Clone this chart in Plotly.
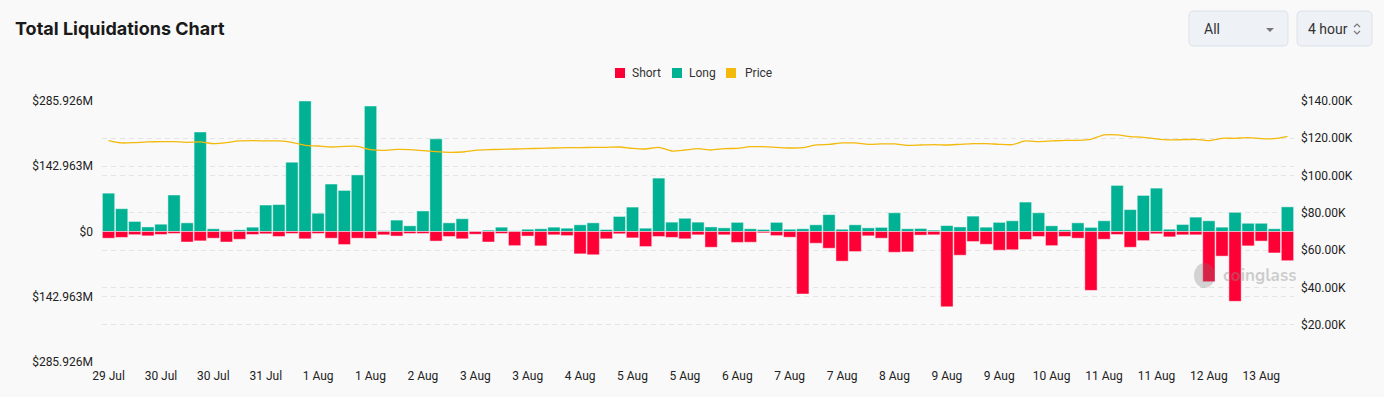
import pandas as pd
import plotly.graph_objects as go

# ---------------- data ----------------
times = pd.date_range("2025-07-29 08:00", periods=91, freq="4h").strftime("%Y-%m-%d %H:%M").tolist()

long_vals = [84, 50, 22, 10, 16, 80, 19, 218, 6, 2.2, 3.7, 9.5, 58, 59, 152, 285.926, 40, 104, 90, 124, 275, 2.2, 25,
             12.5, 45, 203, 19, 28, 1, 3, 9.5, 1.5, 5, 6, 9.5, 7.3, 14.7, 19, 4.4, 33, 53.5, 7.3, 117, 20.5, 29, 20.5,
             10, 8, 20, 6, 4.4, 20, 5, 6, 14.7, 37, 5, 14.7, 8, 9, 41, 6, 6.6, 3, 13, 10, 33.7, 9.5, 20,
             23.5, 64.5, 41, 12.5, 3.7, 19, 9, 23.5, 101, 48, 79, 95, 5, 15.4, 31.5, 23.5, 9.5, 42, 18, 18, 6, 54]

short_vals = [14.7, 13, 7, 9.5, 6.6, 4.4, 23, 20.5, 14.7, 23, 17, 6.6, 5, 11, 4.4, 16, 4.4, 14.7, 28.6, 14.7, 15.4, 7.3, 10,
              4.4, 4.4, 21, 11, 16, 6, 23, 4.4, 31, 10, 31.5, 7.3, 9, 49, 51, 16, 5, 14, 33, 11, 13, 16, 7.3,
              34.5, 7.3, 24, 23.5, 3, 9, 12.5, 137, 25.7, 36.7, 65, 44, 9.5, 14.7, 45.5, 44.7, 8, 7.3, 165, 52, 22, 28, 41,
              40, 17.6, 11, 31, 11, 14.7, 129, 17, 6.6, 34.5, 20, 5, 11.7, 7.3, 7.3, 110, 54, 153, 31.5, 21, 47, 64]

price_k = [118.74, 117.49, 117.67, 118.03, 118.2, 118.2, 117.85, 118.03, 117.13, 117.67, 118.56, 118.74, 118.56, 118.56,
           117.85, 116.23, 115.87, 115.33, 115.69, 115.69, 113.9, 113.54, 114.08,
           113.9, 113.36, 112.82, 112.46, 112.64, 113.54, 113.9, 114.08, 114.26, 114.43, 114.61, 114.79, 114.97, 114.97,
           115.15, 115.15, 115.33, 114.61, 114.26, 115.15, 113.18, 113.72, 114.43,
           113.72, 114.43, 114.61, 115.51, 115.51, 115.15, 114.79, 114.97, 116.41, 116.77, 117.49, 117.49, 116.77, 116.95,
           116.95, 116.23, 116.41, 116.59, 116.41, 116.77, 117.13, 117.13, 116.77,
           116.59, 118.56, 118.2, 118.56, 118.92, 118.92, 119.46, 121.8, 121.8, 120.9, 120.54, 119.64, 119.1, 119.28,
           119.46, 118.74, 120.0, 120.0, 120.36, 119.82, 119.82, 121.08]

x_tick_labels = ["29 Jul", "30 Jul", "30 Jul", "31 Jul", "1 Aug", "1 Aug", "2 Aug", "3 Aug", "3 Aug", "4 Aug",
                 "5 Aug", "5 Aug", "6 Aug", "7 Aug", "7 Aug", "8 Aug", "9 Aug", "9 Aug", "10 Aug", "11 Aug",
                 "11 Aug", "12 Aug", "13 Aug"]
left_tick_vals = [-285.926, -142.963, 0, 142.963, 285.926]
left_tick_text = ["$285.926M", "$142.963M", "$0", "$142.963M", "$285.926M"]
right_tick_vals = [20000, 40000, 60000, 80000, 100000, 120000, 140000]
right_tick_text = ["$20.00K", "$40.00K", "$60.00K", "$80.00K", "$100.00K", "$120.00K", "$140.00K"]

# ---------------- style ----------------
W, H = 1384, 397
L, R, T, B = 102, 90, 101, 35
PW, PH = W - L - R, H - T - B
BG = "#f9f9f9"
RED = "#ff0036"
GREEN = "#00b293"
GOLD = "#f3b90b"
GRID = "#e4e4e4"
TXT = "#222222"
FONT = "Roboto"


def px(x):
    return (x - L) / PW


def py(y):
    return (H - B - y) / PH


fig = go.Figure()
fig.add_trace(go.Bar(x=times, y=long_vals, name="Long", marker=dict(color=GREEN, line=dict(color="rgba(255,255,255,0.45)", width=1))))
fig.add_trace(go.Bar(x=times, y=[-v for v in short_vals], name="Short", marker=dict(color=RED, line=dict(color="rgba(255,255,255,0.45)", width=1))))
fig.add_trace(go.Scatter(x=times, y=[p * 1000 for p in price_k], name="Price", yaxis="y2", mode="lines",
                         line=dict(color=GOLD, width=1.3, shape="spline", smoothing=0.6)))

shapes = []
annotations = []

# title
annotations.append(dict(text="<b>Total Liquidations Chart</b>", x=px(13), y=py(29), xref="paper", yref="paper",
                        xanchor="left", yanchor="middle", showarrow=False,
                        font=dict(family="Inter", size=18, color="#1a1a1a")))

# legend (manual)
for x0, col, label, tx in [(615, RED, "Short", 630), (672, GREEN, "Long", 687), (726, GOLD, "Price", 743)]:
    shapes.append(dict(type="rect", xref="paper", yref="paper", x0=px(x0), x1=px(x0 + 10), y0=py(68), y1=py(78),
                       fillcolor=col, line=dict(width=0)))
    annotations.append(dict(text=label, x=px(tx), y=py(73), xref="paper", yref="paper", xanchor="left",
                            yanchor="middle", showarrow=False, font=dict(family=FONT, size=12, color="#333333")))


def rounded_box(x0, y0, x1, y1, r=5):
    X0, X1 = px(x0), px(x1)
    Y0, Y1 = py(y0), py(y1)
    rx, ry = r / PW, r / PH
    return (f"M{X0 + rx},{Y0} L{X1 - rx},{Y0} Q{X1},{Y0} {X1},{Y0 - ry} L{X1},{Y1 + ry} Q{X1},{Y1} {X1 - rx},{Y1} "
            f"L{X0 + rx},{Y1} Q{X0},{Y1} {X0},{Y1 + ry} L{X0},{Y0 - ry} Q{X0},{Y0} {X0 + rx},{Y0} Z")


# controls
for (x0, x1) in [(1189, 1288), (1297, 1372)]:
    shapes.append(dict(type="path", xref="paper", yref="paper", path=rounded_box(x0, 11, x1, 46),
                       fillcolor="#eef1f6", line=dict(color="#dbe1ea", width=1)))
annotations.append(dict(text="All", x=px(1202), y=py(29), xref="paper", yref="paper", xanchor="left",
                        yanchor="middle", showarrow=False, font=dict(family=FONT, size=14, color="#333333")))
annotations.append(dict(text="4 hour", x=px(1306), y=py(29), xref="paper", yref="paper", xanchor="left",
                        yanchor="middle", showarrow=False, font=dict(family=FONT, size=14, color="#333333")))
shapes.append(dict(type="path", xref="paper", yref="paper",
                   path=f"M{px(1266)},{py(28)} L{px(1274)},{py(28)} L{px(1270)},{py(32)} Z",
                   fillcolor="#777777", line=dict(width=0)))
shapes.append(dict(type="path", xref="paper", yref="paper",
                   path=f"M{px(1354)},{py(27)} L{px(1357)},{py(24)} L{px(1360)},{py(27)} "
                        f"M{px(1354)},{py(31)} L{px(1357)},{py(34)} L{px(1360)},{py(31)}",
                   line=dict(color="#777777", width=1.2)))

# watermark
shapes.append(dict(type="circle", xref="paper", yref="paper", x0=px(1194), x1=px(1215), y0=py(263), y1=py(288),
                   fillcolor="rgba(120,120,120,0.30)", line=dict(width=0)))
annotations.append(dict(text="<b>coinglass</b>", x=px(1221), y=py(275), xref="paper", yref="paper",
                        xanchor="left", yanchor="middle", showarrow=False,
                        font=dict(family="Nunito, Lato, sans-serif", size=17, color="rgba(140,140,140,0.42)")))

fig.update_layout(
    width=W, height=H, autosize=False,
    margin=dict(l=L, r=R, t=T, b=B, pad=0),
    paper_bgcolor=BG, plot_bgcolor=BG,
    barmode="relative", bargap=0.06,
    showlegend=False,
    shapes=shapes, annotations=annotations,
    font=dict(family=FONT, size=12, color=TXT),
    xaxis=dict(type="category", tickmode="array", tickvals=times[::4], ticktext=x_tick_labels,
               showgrid=False, zeroline=False, showline=False, ticks="", tickangle=0, ticklabelstandoff=5,
               tickfont=dict(family=FONT, size=12, color=TXT), range=[-0.5, 90.5]),
    yaxis=dict(range=[-285.926, 285.926], tickmode="array", tickvals=left_tick_vals, ticktext=left_tick_text,
               showgrid=True, gridcolor=GRID, griddash="5px,4px", gridwidth=1, zeroline=False, showline=False,
               ticks="", ticklabelstandoff=8, tickfont=dict(family=FONT, size=12, color=TXT)),
    yaxis2=dict(range=[0, 140000], overlaying="y", side="right", tickmode="array", tickvals=right_tick_vals,
                ticktext=right_tick_text, showgrid=True, gridcolor=GRID, griddash="5px,4px", gridwidth=1,
                zeroline=False, showline=False, ticks="", ticklabelstandoff=6,
                tickfont=dict(family=FONT, size=12, color=TXT)),
)

fig.write_html("out.html", config={"displayModeBar": False},
               post_script="document.body.style.margin='0';document.body.style.padding='0';"
                           "document.body.style.overflow='hidden';document.body.style.background='#f9f9f9';")
